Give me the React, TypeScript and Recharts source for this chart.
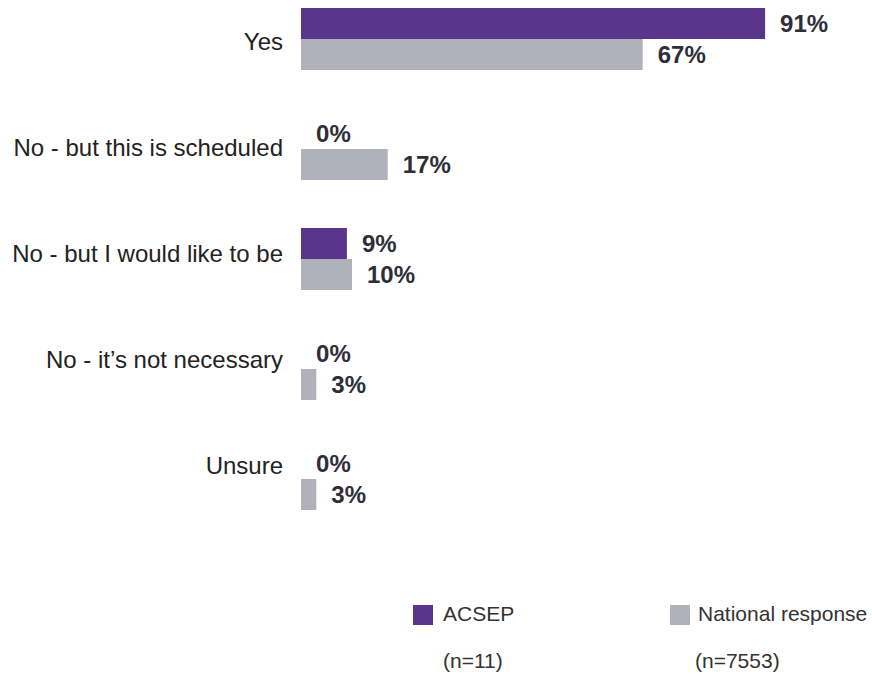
import { BarChart, Bar, XAxis, YAxis, LabelList, Cell } from 'recharts'

const categories = [
  'Yes',
  'No - but this is scheduled',
  'No - but I would like to be',
  'No - it\u2019s not necessary',
  'Unsure',
]
const acsepValues = [91, 0, 9, 0, 0]
const nationalValues = [67, 17, 10, 3, 3]

const seriesInfo = [
  { key: 'acsep', name: 'ACSEP', n: '(n=11)', color: '#5B358C', values: acsepValues },
  { key: 'national', name: 'National response', n: '(n=7553)', color: '#B1B1BC', values: nationalValues },
]

const data = categories.map((c, i) => ({
  category: c,
  acsep: acsepValues[i],
  national: nationalValues[i],
}))

const font = 'Arial, "Liberation Sans", sans-serif'

// the category texts in the original sit a little higher the further down they go
function CategoryTick(props: any) {
  const { x, y, payload, index } = props
  const shift = 2 - 4 * index
  return (
    <text x={x} y={y + shift} dy="0.355em" textAnchor="end" fontSize={24} fill="#222" fontFamily={font}>
      {payload.value}
    </text>
  )
}

export default function App() {
  return (
    <div style={{ position: 'absolute', left: 0, top: 0, width: 872, height: 675, fontFamily: font, background: '#fff', overflow: 'hidden' }}>
      <div style={{ position: 'absolute', left: 0, top: -16 }}>
        <BarChart
          width={872}
          height={550}
          data={data}
          layout="vertical"
          margin={{ top: 0, right: 61, bottom: 0, left: 0 }}
          barGap={0}
        >
          <XAxis type="number" domain={[0, 100]} hide />
          <YAxis
            type="category"
            dataKey="category"
            width={301}
            axisLine={false}
            tickLine={false}
            tickSize={0}
            tickMargin={18}
            tick={<CategoryTick />}
          />
          {seriesInfo.map((s) => (
            <Bar key={s.key} dataKey={s.key} name={s.name} fill={s.color} barSize={31} minPointSize={0.1} isAnimationActive={false}>
              {s.values.map((v, i) => (
                <Cell key={i} fill={s.color} fillOpacity={v === 0 ? 0 : 1} />
              ))}
              <LabelList
                dataKey={s.key}
                position="right"
                offset={15}
                formatter={(v: number) => `${v}%`}
                style={{ fontSize: 24, fontWeight: 'bold', fill: '#2E2E38', fontFamily: font }}
              />
            </Bar>
          ))}
        </BarChart>
      </div>
      {seriesInfo.map((s, i) => {
        const left = i === 0 ? 413 : 670
        return (
          <div key={s.key}>
            <div style={{ position: 'absolute', left, top: 605, width: 20, height: 20, background: s.color }} />
            <div style={{ position: 'absolute', left: left + 30 - (i === 1 ? 2 : 0), top: 602, fontSize: 21, color: '#333', lineHeight: '24px' }}>
              {s.name}
            </div>
            <div style={{ position: 'absolute', left: left + 30 - (i === 1 ? 5 : 0), top: 649, fontSize: 21, color: '#333', lineHeight: '24px' }}>
              {s.n}
            </div>
          </div>
        )
      })}
    </div>
  )
}
